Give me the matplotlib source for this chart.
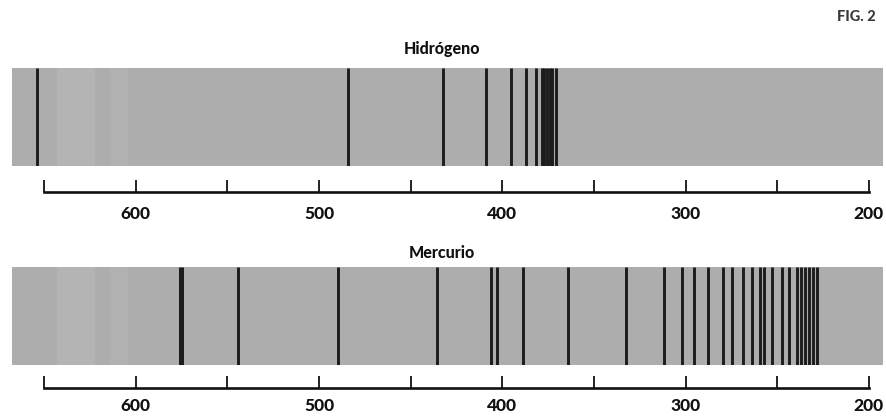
import matplotlib.pyplot as plt
import numpy as np

# wavelengths (nm)
hydrogen_lines = [653.7, 484.3, 432.2, 408.9, 395.4, 387.2, 381.6,
                  378.4, 377.0, 375.6, 374.2, 372.9, 370.7]
mercury_lines = [575.4, 544.0, 489.5, 435.4, 406.4, 402.7, 388.8, 364.3,
                 332.5, 311.6, 301.9, 295.2, 287.9, 279.4, 274.5, 268.6,
                 263.9, 259.4, 257.2, 253.0, 247.5, 243.4, 239.4, 237.2,
                 234.8, 232.5, 230.3, 228.5]
thick_lines = [575.4]

tick_values = np.arange(650, 199, -50)
tick_labels = [str(t) if t % 100 == 0 else '' for t in tick_values]

panels = [('Hidrógeno', hydrogen_lines), ('Mercurio', mercury_lines)]

W, H = 887, 418
fig = plt.figure(figsize=(W / 100, H / 100), dpi=100)
fig.patch.set_facecolor('white')

x_left, x_right = 667.5, 192.3   # band edges in nm
band_px = [(68, 166), (267, 365)]   # top / bottom of band, pixels from top
base_px = [192, 388]                # scale baseline
label_pad = [10, 7]
title_px = [49, 253]

for (name, lines), (top, bot), base, pad, ty in zip(panels, band_px, base_px,
                                                    label_pad, title_px):
    ax = fig.add_axes([12 / W, 1 - bot / H, 871 / W, (bot - top) / H])
    ax.set_xlim(x_left, x_right)
    ax.set_ylim(0, 1)
    ax.set_facecolor('#adadad')
    # faint lighter streaks near the red end
    ax.axvspan(643, 622, color='#b4b4b4', lw=0)
    ax.axvspan(614, 604, color='#b1b1b1', lw=0)
    widths = [3.6 if l in thick_lines else 2.1 for l in lines]
    ax.vlines(lines, 0, 1, colors='#1c1c1c', linewidths=widths)
    for s in ax.spines.values():
        s.set_visible(False)
    ax.set_xticks([])
    ax.set_yticks([])
    fig.text(442 / W, 1 - ty / H, name, ha='center', va='center',
             fontsize=11.5, fontweight='black', family='Lato', color='#111111')

    sc = fig.add_axes([12 / W, 1 - base / H, 871 / W, 14 / H])
    sc.set_xlim(x_left, x_right)
    sc.set_ylim(0, 1)
    sc.patch.set_visible(False)
    for k in ['top', 'left', 'right']:
        sc.spines[k].set_visible(False)
    sc.spines['bottom'].set_bounds(650, 200)
    sc.spines['bottom'].set_linewidth(1.9)
    sc.spines['bottom'].set_color('#111111')
    sc.set_yticks([])
    sc.set_xticks(tick_values)
    sc.set_xticklabels(tick_labels)
    sc.tick_params(axis='x', direction='in', length=9, width=1.3,
                   color='#111111', pad=pad, labelsize=12.5)
    for lab in sc.get_xticklabels():
        lab.set_fontweight('black')
        lab.set_family('Lato')
        lab.set_color('#111111')

fig.text(856 / W, 1 - 17 / H, 'FIG. 2', ha='center', va='center',
         fontsize=10.5, fontweight='black', family='Lato', color='#3a3a3a')

fig.savefig('out.png', dpi=100, facecolor='white')
